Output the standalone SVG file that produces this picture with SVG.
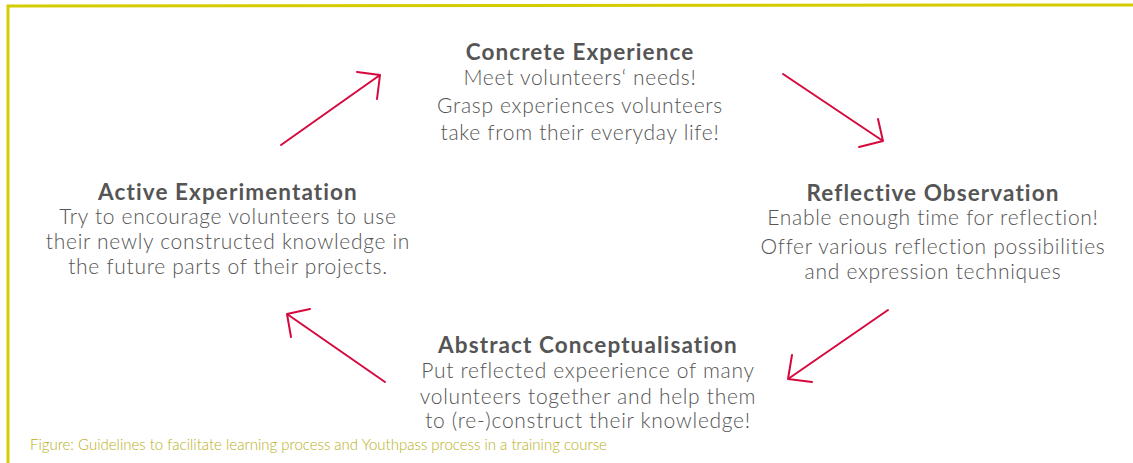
<svg xmlns="http://www.w3.org/2000/svg" width="1133" height="463" viewBox="0 0 1133 463">
<style>
.t{font-family:Lato,"Open Sans","Liberation Sans",sans-serif;font-size:22.5px;font-weight:700;fill:#555555;text-anchor:middle;letter-spacing:1.1px}
.b{font-family:Lato,"Open Sans","Liberation Sans",sans-serif;font-size:21px;font-weight:300;fill:#555555;text-anchor:middle;letter-spacing:0.7px}
.cap{font-family:Lato,"Open Sans","Liberation Sans",sans-serif;font-size:15px;font-weight:300;fill:#b8b020}
.arr{fill:none;stroke:#d6093f;stroke-width:2;stroke-linecap:round;stroke-linejoin:round}
.frame{fill:none;stroke:#d4cc00;stroke-width:3}
</style>
<rect width="1133" height="463" fill="#ffffff"/>
<path class="frame" d="M8,463 L8,6 L1133,5"/>
<g id="connectors">
<path class="arr" d="M281,145 L380,75 M357,72 L380,75 L377,99"/>
<path class="arr" d="M783,74 L883,141 M878,119 L883,141 L859,147"/>
<path class="arr" d="M888,310 L788,379 M792,355 L788,379 L812,382"/>
<path class="arr" d="M385,382 L287,314 M310,309 L287,314 L291,337"/>
</g>
<g id="concrete">
<text class="t" x="580" y="60">Concrete Experience</text>
<text class="b" x="580" y="85">Meet volunteers‘ needs!</text>
<text class="b" x="580" y="113">Grasp experiences volunteers</text>
<text class="b" x="580" y="140">take from their everyday life!</text>
</g>
<g id="reflective">
<text class="t" x="933" y="201">Reflective Observation</text>
<text class="b" x="933" y="225">Enable enough time for reflection!</text>
<text class="b" x="933" y="254">Offer various reflection possibilities</text>
<text class="b" x="933" y="279">and expression techniques</text>
</g>
<g id="abstract">
<text class="t" x="588" y="353">Abstract Conceptualisation</text>
<text class="b" x="588" y="378">Put reflected expeerience of many</text>
<text class="b" x="588" y="404">volunteers together and help them</text>
<text class="b" x="588" y="428">to (re-)construct their knowledge!</text>
</g>
<g id="active">
<text class="t" x="228" y="200">Active Experimentation</text>
<text class="b" x="228" y="224">Try to encourage volunteers to use</text>
<text class="b" x="228" y="249">their newly constructed knowledge in</text>
<text class="b" x="228" y="274">the future parts of their projects.</text>
</g>
<text class="cap" x="30" y="450">Figure: Guidelines to facilitate learning process and Youthpass process in a training course</text>
</svg>
